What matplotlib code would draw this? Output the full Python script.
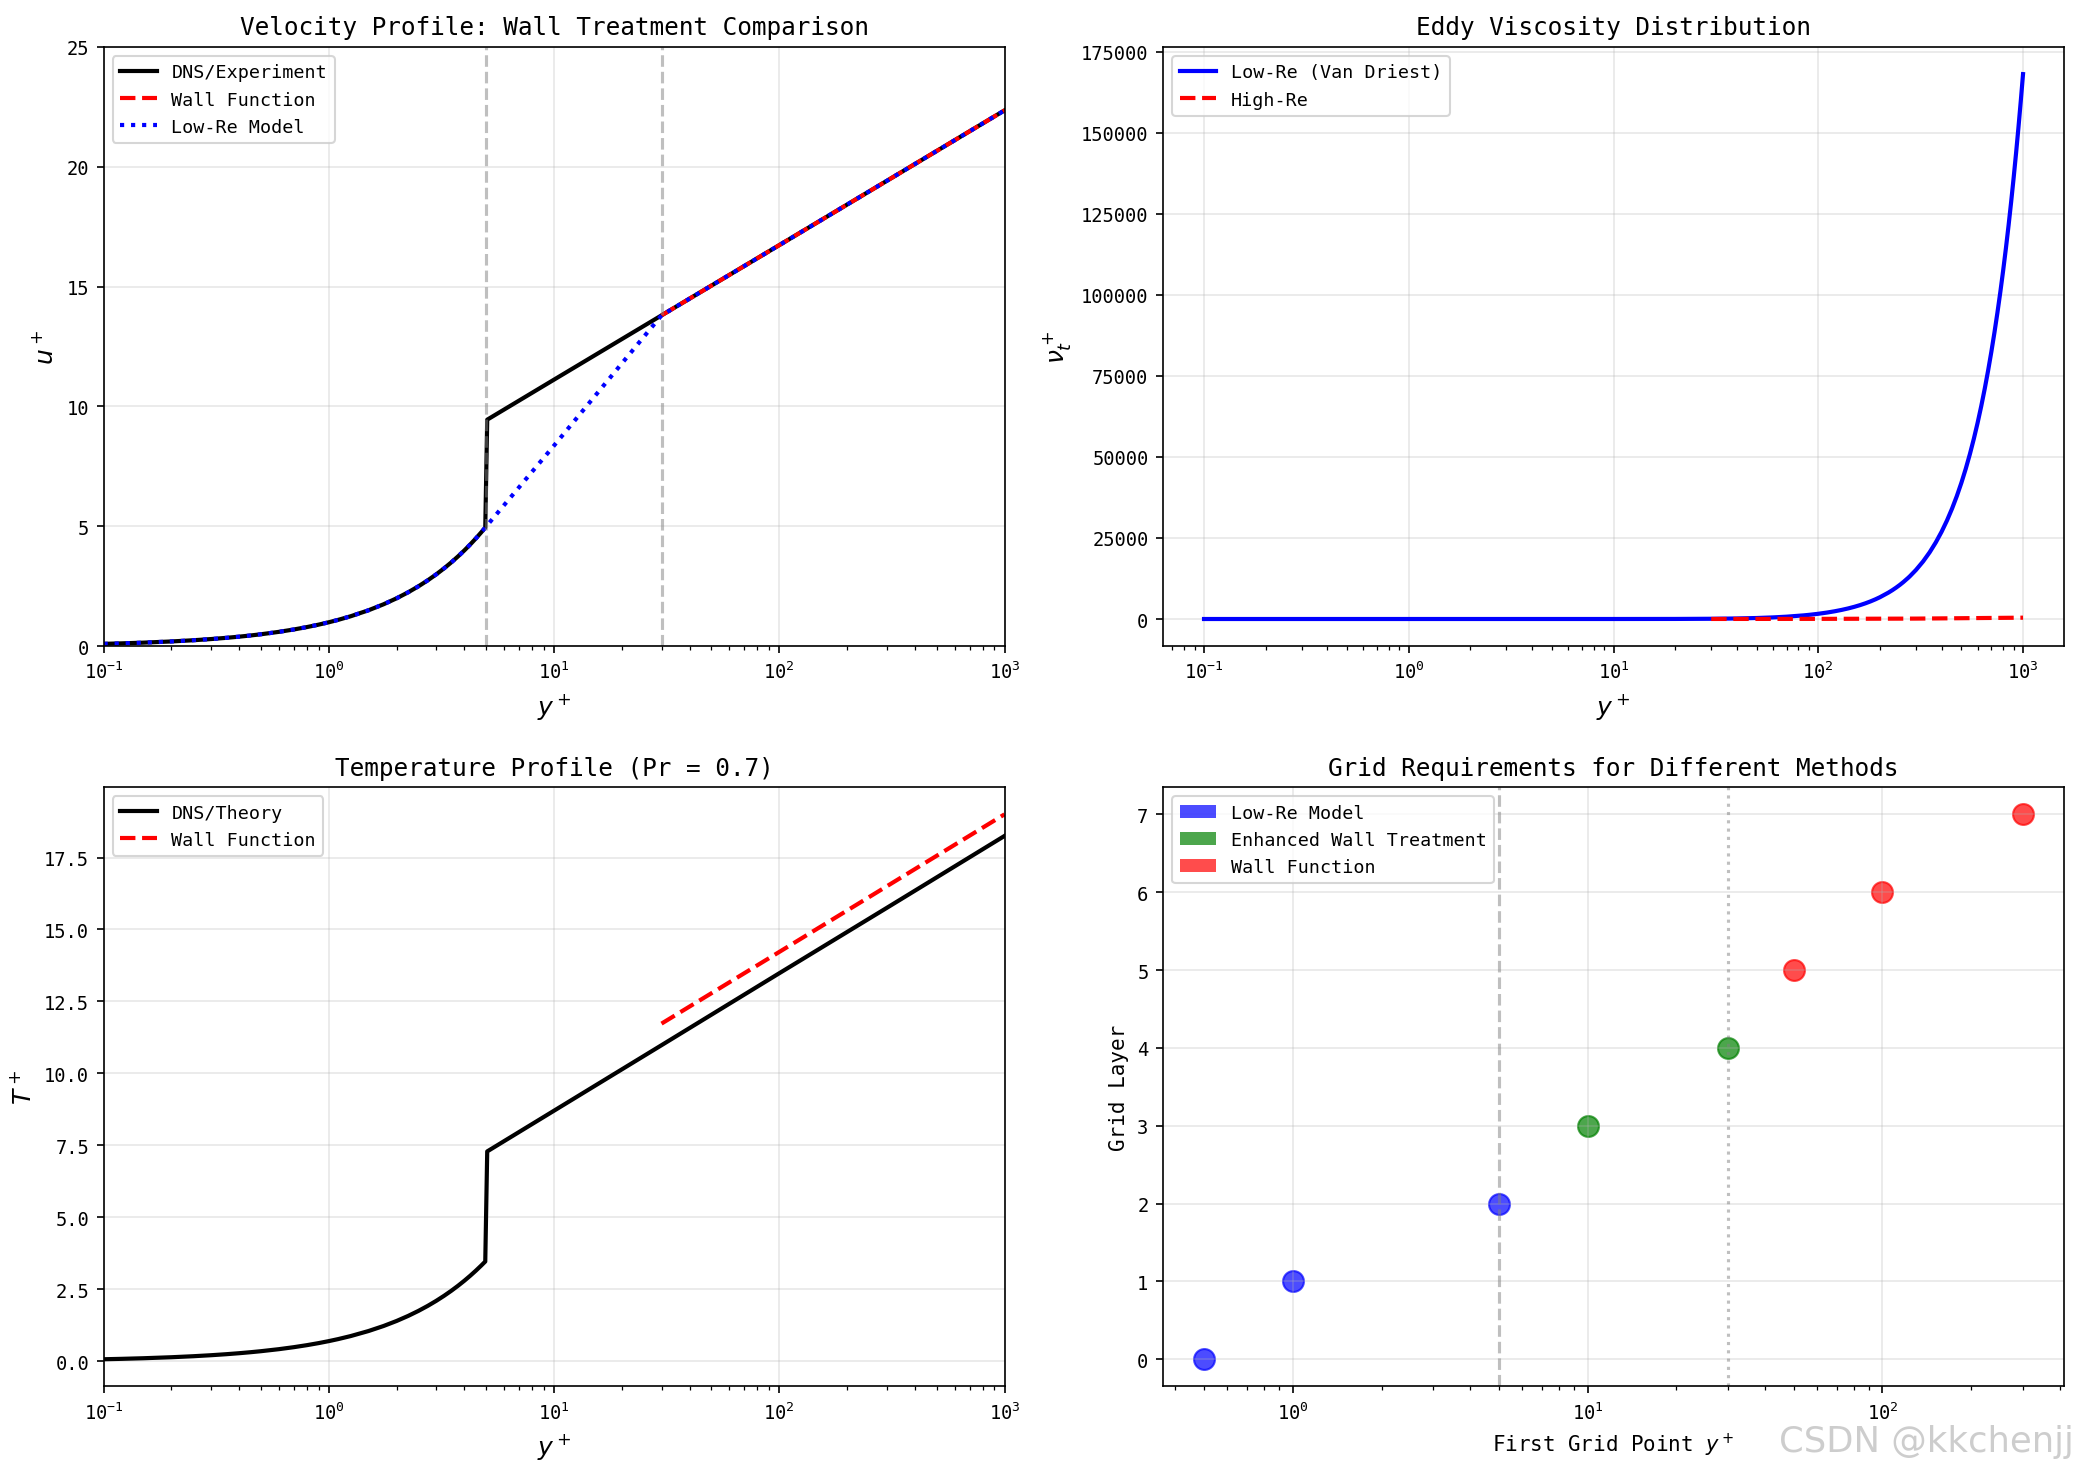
import matplotlib
matplotlib.use("Agg")
import matplotlib.pyplot as plt
from matplotlib.patches import Patch

plt.rcParams['font.family'] = ['DejaVu Sans Mono', 'DejaVu Sans']
plt.rcParams['axes.unicode_minus'] = True

# ---------------- data ----------------
# Velocity profile
visc_y = [0.1, 0.12, 0.15, 0.2, 0.25, 0.3, 0.35, 0.4, 0.45, 0.5, 0.6, 0.7, 0.8, 0.9, 1.0, 1.1, 1.25, 1.5,
          1.75, 2.0, 2.25, 2.5, 2.75, 3.0, 3.25, 3.5, 3.75, 4.0, 4.25, 4.5, 4.75, 4.95]
visc_u = [0.1, 0.12, 0.15, 0.2, 0.25, 0.3, 0.35, 0.4, 0.45, 0.5, 0.6, 0.7, 0.8, 0.9, 1.0, 1.1, 1.25, 1.5,
          1.75, 2.0, 2.25, 2.5, 2.75, 3.0, 3.25, 3.5, 3.75, 4.0, 4.25, 4.5, 4.75, 4.95]
vel_log_y = [5.05, 10, 30, 100, 300, 1000]
vel_log_u = [9.45, 11.12, 13.80, 16.73, 19.41, 22.35]
vel_wf_y = [30, 100, 300, 1000]
vel_wf_u = [13.80, 16.73, 19.41, 22.35]
vel_lr_buf_y = [10, 30, 100, 300, 1000]
vel_lr_buf_u = [8.37, 13.80, 16.73, 19.41, 22.35]

# Eddy viscosity
nut_lr_y = [0.1, 1, 10, 20, 30, 40, 50, 60, 70, 85, 92, 100, 110, 120, 130, 140, 150, 160, 170, 180, 190,
            200, 220, 230, 240, 250, 260, 275, 280, 300, 325, 350, 375, 400, 425, 450, 475, 500, 525,
            550, 575, 600, 625, 650, 675, 700, 725, 750, 775, 800, 825, 850, 875, 900, 925, 950, 975, 1000]
nut_lr_v = [0.0, 0.0002, 1.71, 19.4, 70.9, 165.8, 306, 490.7, 716, 1124, 1341, 1610, 1975, 2373, 2803,
            3265, 3759, 4285, 4844, 5436, 6061, 6718, 8136, 8892, 9683, 10505, 11364, 12713, 13179,
            15129, 17756, 20592, 23639, 26896, 30363, 34040, 37928, 42025, 46333, 50850, 55578, 60516,
            65664, 71022, 76591, 82369, 88358, 94556, 100966, 107584, 114413, 121452, 128702, 136161,
            143832, 151710, 159802, 168100]
nut_hr_y = [30, 100, 300, 1000]
nut_hr_v = [12.3, 41.0, 123.0, 410.0]

# Temperature profile
tmp_visc_t = [0.07, 0.084, 0.105, 0.14, 0.175, 0.21, 0.245, 0.28, 0.315, 0.35, 0.42, 0.49, 0.56, 0.63,
              0.7, 0.77, 0.875, 1.05, 1.225, 1.4, 1.575, 1.75, 1.925, 2.1, 2.275, 2.45, 2.625, 2.8,
              2.975, 3.15, 3.325, 3.465]
tmp_log_y = [5.05, 30, 100, 300, 1000]
tmp_log_t = [7.29, 10.98, 13.48, 15.75, 18.25]
tmp_wf_y = [30, 100, 300, 1000]
tmp_wf_t = [11.73, 14.22, 16.50, 19.00]

# Grid requirements
grid_methods = ['Low-Re Model', 'Enhanced Wall Treatment', 'Wall Function']
grid_colors = ['blue', 'green', 'red']
grid_y = [[0.5, 1, 5], [10, 30], [50, 100, 300]]
grid_layer = [[0, 1, 2], [3, 4], [5, 6, 7]]

# ---------------- figure ----------------
W, H = 2080, 1477
fig, axes = plt.subplots(2, 2, figsize=(W / 150, H / 150), dpi=150)
fig.subplots_adjust(left=0.0498, right=0.9923, top=0.9676, bottom=0.0606, wspace=0.176, hspace=0.235)

TS = 11.7
LS = 10
LEG = 8.8
TICK = 9

# Velocity
ax = axes[0, 0]
ax.semilogx(visc_y + vel_log_y, visc_u + vel_log_u, 'k-', lw=2, label='DNS/Experiment')
ax.semilogx(vel_wf_y, vel_wf_u, 'r--', lw=2, label='Wall Function')
ax.semilogx(visc_y + vel_lr_buf_y, visc_u + vel_lr_buf_u, 'b:', lw=2, label='Low-Re Model')
ax.axvline(5, color='gray', ls='--', alpha=0.5)
ax.axvline(30, color='gray', ls='--', alpha=0.5)
ax.set_xlim(0.1, 1000)
ax.set_ylim(0, 25)
ax.set_xlabel('$y^+$', fontsize=12)
ax.set_ylabel('$u^+$', fontsize=12)
ax.set_title('Velocity Profile: Wall Treatment Comparison', fontsize=TS)
ax.legend(loc='upper left', fontsize=LEG)
ax.grid(True, alpha=0.3)

# Eddy viscosity
ax = axes[0, 1]
ax.semilogx(nut_lr_y, nut_lr_v, 'b-', lw=2, label='Low-Re (Van Driest)')
ax.semilogx(nut_hr_y, nut_hr_v, 'r--', lw=2, label='High-Re')
ax.set_xlabel('$y^+$', fontsize=12)
ax.set_ylabel(r'$\nu_t^+$', fontsize=12)
ax.set_title('Eddy Viscosity Distribution', fontsize=TS)
ax.legend(loc='upper left', fontsize=LEG)
ax.grid(True, alpha=0.3)

# Temperature
ax = axes[1, 0]
ax.semilogx(visc_y + tmp_log_y, tmp_visc_t + tmp_log_t, 'k-', lw=2, label='DNS/Theory')
ax.semilogx(tmp_wf_y, tmp_wf_t, 'r--', lw=2, label='Wall Function')
ax.set_xlim(0.1, 1000)
ax.set_xlabel('$y^+$', fontsize=12)
ax.set_ylabel('$T^+$', fontsize=12)
ax.set_title('Temperature Profile (Pr = 0.7)', fontsize=TS)
ax.legend(loc='upper left', fontsize=LEG)
ax.grid(True, alpha=0.3)

# Grid requirements
ax = axes[1, 1]
for xs, ys, c in zip(grid_y, grid_layer, grid_colors):
    ax.scatter(xs, ys, s=100, c=c, alpha=0.7)
ax.set_xscale('log')
ax.axvline(5, color='gray', ls='--', alpha=0.5)
ax.axvline(30, color='gray', ls=':', alpha=0.5)
ax.set_xlabel('First Grid Point $y^+$', fontsize=LS)
ax.set_ylabel('Grid Layer', fontsize=LS)
ax.set_title('Grid Requirements for Different Methods', fontsize=TS)
handles = [Patch(facecolor=c, alpha=0.7, label=m) for m, c in zip(grid_methods, grid_colors)]
ax.legend(handles=handles, loc='upper left', fontsize=LEG)
ax.grid(True, alpha=0.3)

for ax in axes.flat:
    ax.tick_params(labelsize=TICK)

fig.text(0.997, 0.012, 'CSDN @kkchenjj', ha='right', va='bottom', fontsize=17,
         family='DejaVu Sans', color='#c8c8c8', alpha=0.9)

fig.savefig('out.png', dpi=150)
